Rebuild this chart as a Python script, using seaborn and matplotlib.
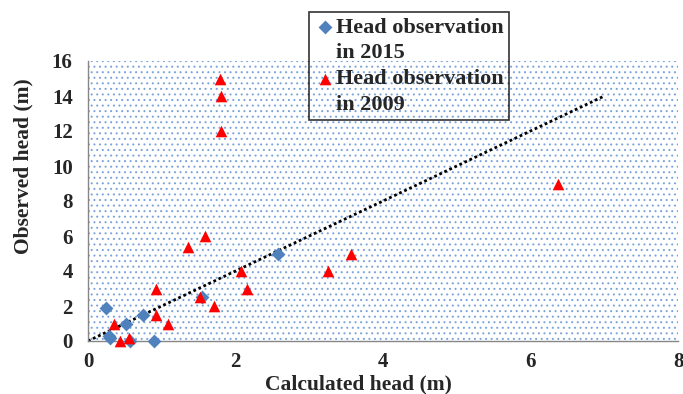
import matplotlib
matplotlib.use('Agg')
import matplotlib.pyplot as plt
import seaborn as sns
import pandas as pd
from matplotlib.patches import Rectangle

# Head observation in 2015 (calculated, observed)
calc_2015 = [0.25, 0.28, 0.30, 0.52, 0.75, 0.57, 0.90, 1.55, 2.57]
obs_2015 = [1.9, 0.3, 0.15, 1.0, 1.5, 0.0, 0.0, 2.5, 5.0]

# Head observation in 2009
calc_2009 = [1.79, 1.81, 1.81, 1.36, 1.58, 2.07, 2.15, 1.52, 1.71, 0.92,
             0.92, 1.08, 0.35, 0.44, 0.56, 3.25, 3.56, 6.37]
obs_2009 = [15.0, 14.0, 12.0, 5.4, 6.0, 4.0, 3.0, 2.5, 2.0, 3.0,
            1.5, 1.0, 1.0, 0.0, 0.2, 4.0, 5.0, 9.0]

# 1:2 reference line
line_x = [0, 7]
line_y = [0, 14]

df15 = pd.DataFrame({'calc': calc_2015, 'obs': obs_2015})
df09 = pd.DataFrame({'calc': calc_2009, 'obs': obs_2009})

sns.set_style('white')
plt.rcParams['font.family'] = ['Liberation Serif', 'DejaVu Serif']
plt.rcParams['font.weight'] = 'bold'
plt.rcParams['hatch.linewidth'] = 0.7

fig = plt.figure(figsize=(6.83, 3.94), dpi=100)
ax = fig.add_axes([88 / 683, 1 - 341 / 394, 590 / 683, 280 / 394])

# dotted background fill
ax.add_patch(Rectangle((0, 0), 1, 1, transform=ax.transAxes, facecolor='white',
                       edgecolor='#7aa3dc', hatch='...', linewidth=0, zorder=0))

ax.plot(line_x, line_y, color='black', linestyle=(0, (1, 1)), linewidth=2, zorder=2)

sns.scatterplot(data=df15, x='calc', y='obs', marker='D', s=50, color='#4F81BD',
                linewidth=0, ax=ax, label='Head observation\nin 2015', zorder=3, clip_on=False)
sns.scatterplot(data=df09, x='calc', y='obs', marker='^', s=70, color='#FF0000',
                linewidth=0, ax=ax, label='Head observation\nin 2009', zorder=4, clip_on=False)

ax.set_xlim(0, 8)
ax.set_ylim(0, 16)
ax.set_xticks([0, 2, 4, 6, 8])
ax.set_yticks(range(0, 17, 2))

for s in ['top', 'right']:
    ax.spines[s].set_visible(False)
for s in ['left', 'bottom']:
    ax.spines[s].set_color('#868686')
    ax.spines[s].set_linewidth(1)

ax.tick_params(axis='both', direction='out', length=5, color='#868686', labelsize=15)
ax.tick_params(axis='x', pad=3)
ax.tick_params(axis='y', pad=6)
for lab in ax.get_xticklabels() + ax.get_yticklabels():
    lab.set_fontweight('bold')

ax.set_xlabel('Calculated head (m)', fontsize=15.5, fontweight='bold')
ax.set_ylabel('Observed head (m)', fontsize=15.5, fontweight='bold')
ax.xaxis.label.set_va('center')
ax.xaxis.set_label_coords((358 - 88) / 590, (341 - 384) / 280)
ax.yaxis.label.set_va('center')
ax.yaxis.set_label_coords((23 - 88) / 590, (341 - 166) / 280)

leg = ax.legend(loc='upper left', bbox_to_anchor=(309 / 683, 1 - 12 / 394),
                bbox_transform=fig.transFigure, borderaxespad=0, frameon=True,
                fancybox=False, prop={'size': 16, 'weight': 'bold'},
                handletextpad=0.05, handlelength=0.9, borderpad=0.25, labelspacing=0.3)
for t in leg.get_texts():
    t.set_linespacing(1.35)
# put each marker next to the first line of its label
for row in leg._legend_handle_box.get_children():
    for item in row.get_children():
        item.align = 'top'
leg.get_frame().set_edgecolor('black')
leg.get_frame().set_linewidth(1.2)
leg.get_frame().set_facecolor('none')

fig.savefig('out.png', dpi=100)
